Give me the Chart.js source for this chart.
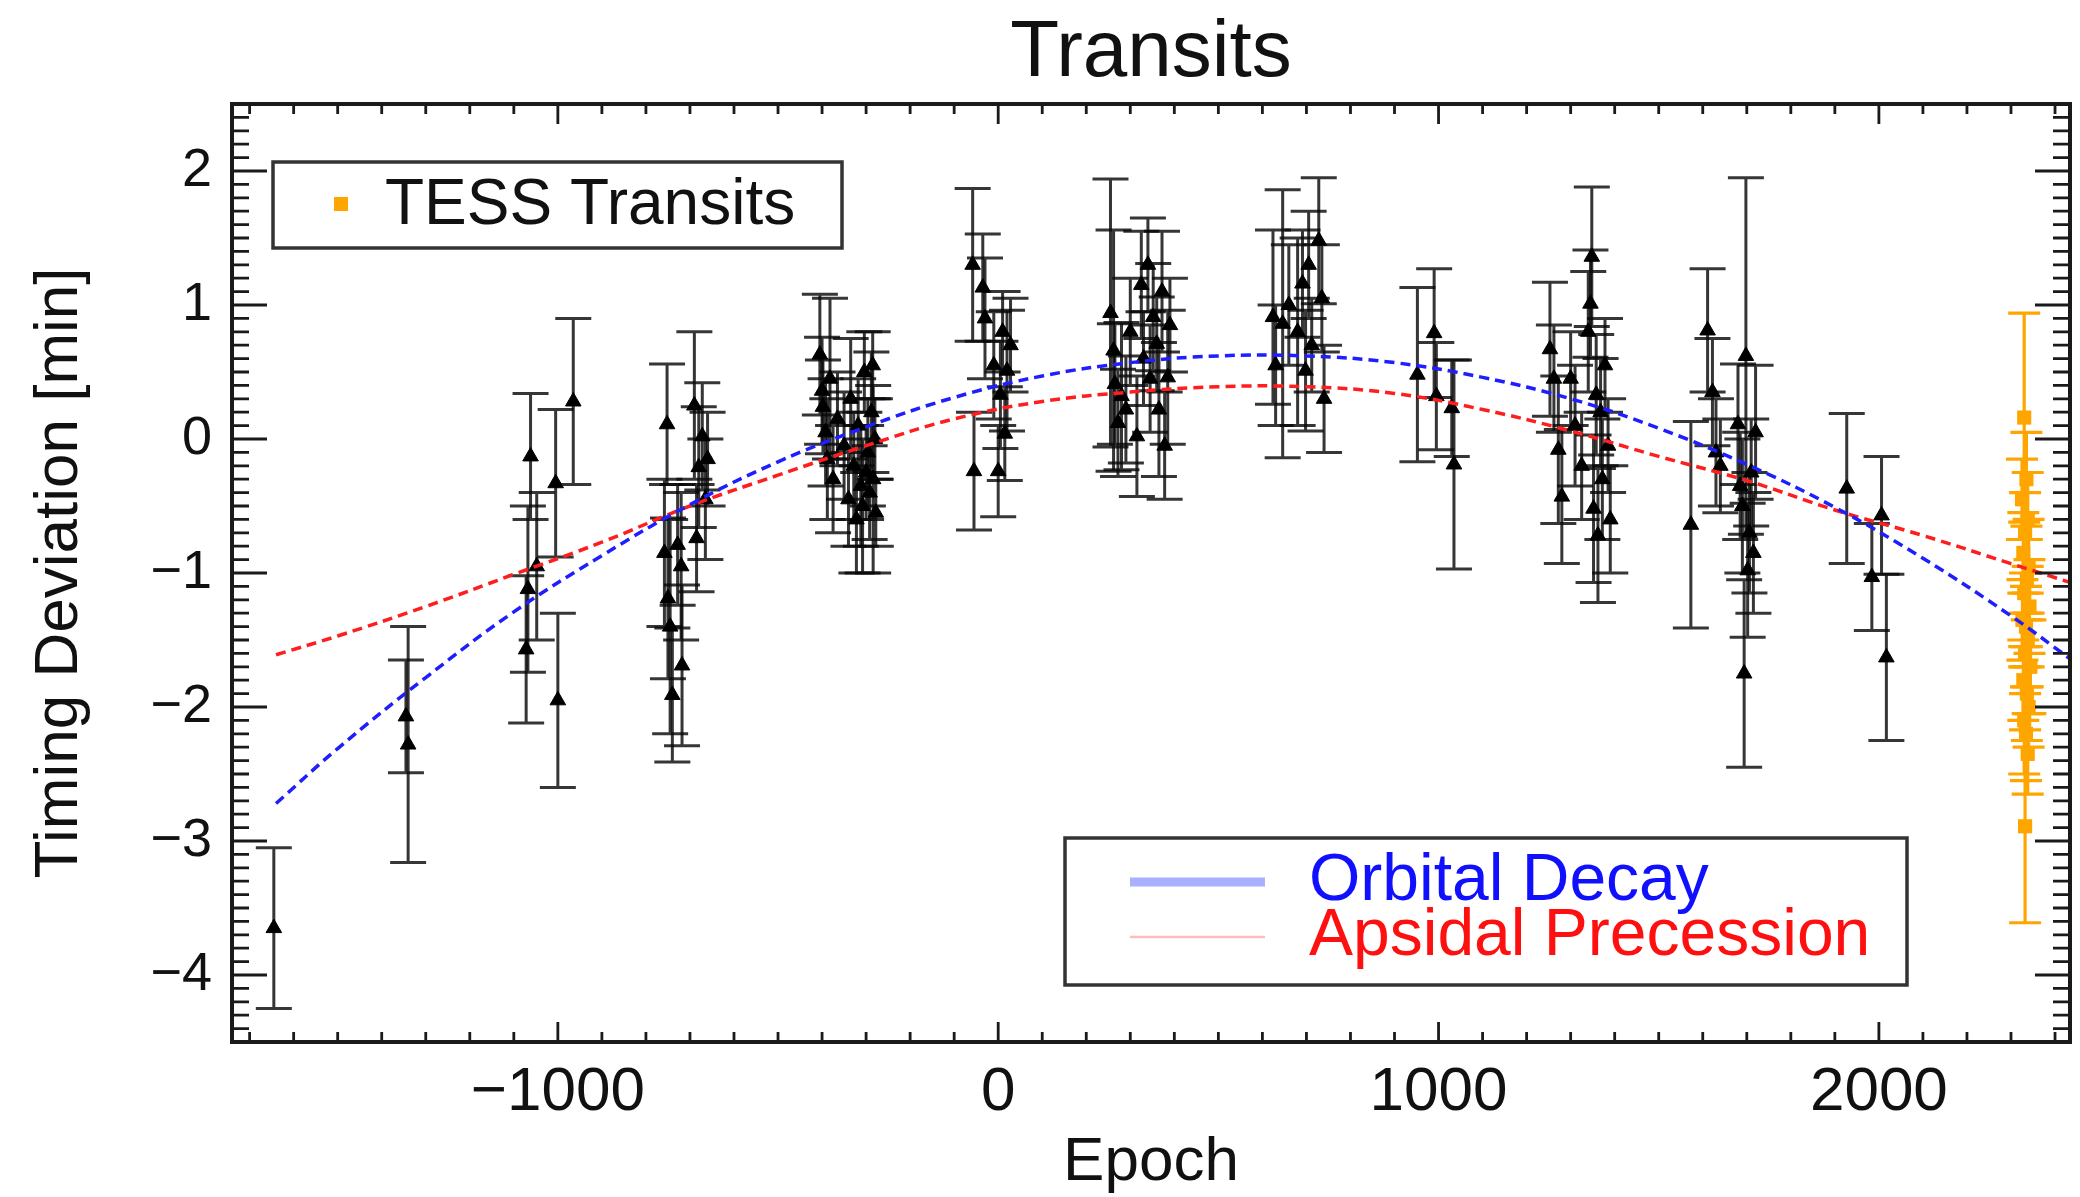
<!DOCTYPE html>
<html>
<head>
<meta charset="utf-8">
<title>Transits</title>
<script src="https://cdn.jsdelivr.net/npm/chart.js@4.4.1/dist/chart.umd.min.js"></script>
<style>
  html, body { margin: 0; padding: 0; background: #fff; }
  #wrap { width: 2080px; height: 1197px; }
</style>
</head>
<body>
<div id="wrap"><canvas id="ttvChart" width="2080" height="1197"></canvas></div>
<script>
// ground-based transits (epoch, timing deviation in min, 1-sigma error)
const epochs = [
    -1645,
    -1345, -1340,
    -1072, -1068, -1062, -1048, -1005, -1000, -965,
    -758, -752, -750, -745, -740, -728, -720, -718, -690, -685, -680, -672, -665, -660,
    -405, -400, -398, -392, -388, -382, -375, -365, -350, -340, -335, -328, -322, -318, -312, -308, -304, -300, -296, -292, -288, -285, -284, -280, -278,
    -58, -55, -35, -30, -10, 0, 5, 10, 15, 20, 28,
    255, 262, 265, 272, 280, 290, 300, 315, 325, 330, 340, 345, 352, 360, 365, 372, 378, 385, 390,
    624, 630, 646, 660, 680, 691, 698, 705, 712, 728, 735, 740,
    952, 990, 995, 1030, 1035,
    1253, 1262, 1272, 1280, 1300, 1310, 1325, 1340, 1345, 1348, 1352, 1358, 1362, 1368, 1372, 1378, 1385, 1390,
    1573, 1611, 1622, 1630, 1640, 1680, 1685, 1690, 1694, 1698, 1702, 1706, 1710, 1715, 1720,
    1927, 1984, 2006, 2017
];
const deviations = [
    -3.65,
    -2.07, -2.28,
    -1.57, -1.12, -0.13, -0.95, -0.33, -1.95, 0.28,
    -0.85, 0.11, -1.19, -1.40, -1.91, -0.79, -0.95, -1.69, 0.25, -0.74, -0.21, 0.02, -0.45, -0.15,
    0.63, 0.36, 0.24, 0.05, -0.15, 0.45, -0.30, 0.15, -0.05, -0.45, 0.30, -0.20, -0.60, 0.10, -0.35, -0.50, 0.50, -0.25, -0.10, -0.40, 0.20, 0.55, -0.30, 0.00, -0.55,
    1.30, -0.24, 1.13, 0.90, 0.55, -0.24, 0.33, 0.80, 0.04, 0.51, 0.70,
    0.94, 0.66, 0.41, 0.12, 0.32, 0.22, 0.80, 0.02, 1.15, 0.60, 1.30, 0.45, 0.91, 0.71, 0.22, 1.10, -0.05, 0.46, 0.85,
    0.91, 0.55, 0.86, 1.00, 0.80, 1.16, 0.51, 1.30, 0.70, 1.48, 1.05, 0.30,
    0.48, 0.79, 0.32, 0.23, -0.19,
    0.67, 0.45, -0.08, -0.43, 0.45, 0.10, -0.20, 0.80, 1.01, 1.36, -0.52, 0.33, -0.72, 0.20, -0.30, 0.55, -0.05, -0.60,
    -0.64, 0.81, 0.35, -0.10, -0.20, 0.11, -0.35, -0.50, -1.75, 0.62, -0.98, -0.70, -0.25, -0.85, 0.05,
    -0.37, -1.03, -0.57, -1.63
];
const errors = [
    0.60,
    0.42, 0.88,
    0.55, 0.62, 0.47, 0.55, 0.55, 0.65, 0.62,
    0.55, 0.45, 0.60, 0.80, 0.50, 0.45, 0.55, 0.60, 0.55, 0.40, 0.45, 0.40, 0.45, 0.35,
    0.45, 0.40, 0.35, 0.40, 0.45, 0.60, 0.40, 0.35, 0.40, 0.35, 0.45, 0.40, 0.40, 0.35, 0.45, 0.50, 0.30, 0.35, 0.40, 0.35, 0.45, 0.25, 0.70, 0.30, 0.25,
    0.57, 0.44, 0.40, 0.45, 0.40, 0.34, 0.40, 0.30, 0.35, 0.45, 0.35,
    1.00, 0.90, 0.45, 0.40, 0.55, 0.40, 0.40, 0.45, 0.40, 0.35, 0.35, 0.40, 0.40, 0.35, 0.50, 0.45, 0.40, 0.50, 0.35,
    0.65, 0.45, 1.00, 0.45, 0.70, 0.40, 0.45, 0.40, 0.35, 0.47, 0.40, 0.40,
    0.65, 0.48, 0.40, 0.36, 0.78,
    0.50, 0.40, 0.55, 0.50, 0.35, 0.45, 0.40, 0.45, 0.40, 0.52, 0.55, 0.45, 0.50, 0.40, 0.45, 0.35, 0.35, 0.40,
    0.77, 0.46, 0.40, 0.40, 0.35, 0.45, 0.40, 0.50, 0.70, 1.33, 0.50, 0.45, 0.40, 0.45, 0.50,
    0.56, 0.40, 0.44, 0.62
];

// TESS transits
const tessEpochs = [2330, 2335, 2325, 2338, 2332, 2328, 2340, 2336, 2330, 2342, 2326, 2334, 2338, 2332, 2344, 2328, 2336, 2340, 2330, 2334, 2338, 2332];
const tessDeviations = [0.16, -0.30, -0.45, -0.60, -0.70, -0.85, -0.95, -1.05, -1.15, -1.25, -1.35, -1.40, -1.50, -1.60, -1.70, -1.80, -1.90, -2.00, -2.10, -2.20, -2.35, -2.89];
const tessErrors = [0.78, 0.35, 0.30, 0.35, 0.30, 0.30, 0.35, 0.30, 0.40, 0.35, 0.30, 0.30, 0.35, 0.30, 0.35, 0.30, 0.35, 0.30, 0.40, 0.35, 0.30, 0.72];

// model curves
const modelEpochs = [-1640, -1500, -1300, -1100, -900, -700, -500, -300, -100, 100, 300, 500, 700, 900, 1100, 1300, 1500, 1700, 1900, 2100, 2300, 2434];
const decayModel = [-2.72, -2.31, -1.78, -1.29, -0.87, -0.49, -0.17, 0.09, 0.31, 0.47, 0.57, 0.62, 0.62, 0.57, 0.46, 0.30, 0.08, -0.19, -0.51, -0.89, -1.32, -1.64];
const precessionModel = [-1.61, -1.47, -1.25, -1.01, -0.77, -0.50, -0.27, -0.05, 0.15, 0.28, 0.35, 0.39, 0.39, 0.34, 0.22, 0.06, -0.13, -0.31, -0.53, -0.72, -0.93, -1.07];

// axes
const xRange = [-1740, 2434];
const yRange = [-4.5, 2.5];
const xMajorTicks = [-1000, 0, 1000, 2000];
const yMajorTicks = [-4, -3, -2, -1, 0, 1, 2];
const xMinorStep = 100;
const yMinorPerMajor = 10;

const FONT = '"Liberation Sans", Arial, Helvetica, sans-serif';
const fmt = v => (v < 0 ? '\u2212' + Math.abs(v) : String(v));

function buildXTicks() {
    const out = [];
    for (let v = Math.ceil(xRange[0] / xMinorStep) * xMinorStep; v <= xRange[1]; v += xMinorStep) out.push({ value: v });
    return out;
}
function buildYTicks() {
    const out = [];
    for (let k = Math.ceil(yRange[0] * yMinorPerMajor); k <= yRange[1] * yMinorPerMajor; k++) out.push({ value: k / yMinorPerMajor });
    return out;
}

const errorBarPlugin = {
    id: 'errorBars',
    beforeDatasetsDraw(chart) {
        const { ctx, chartArea: a, scales: { x, y } } = chart;
        ctx.save();
        ctx.beginPath();
        ctx.rect(a.left, a.top, a.right - a.left, a.bottom - a.top);
        ctx.clip();
        chart.data.datasets.forEach(ds => {
            if (!ds.errors) return;
            ctx.strokeStyle = ds.errorColor;
            ctx.lineWidth = ds.errorWidth;
            const cap = ds.capHalf;
            ds.data.forEach((pt, i) => {
                const px = x.getPixelForValue(pt.x);
                const top = y.getPixelForValue(pt.y + ds.errors[i]);
                const bot = y.getPixelForValue(pt.y - ds.errors[i]);
                ctx.beginPath();
                ctx.moveTo(px, top); ctx.lineTo(px, bot);
                ctx.moveTo(px - cap, top); ctx.lineTo(px + cap, top);
                ctx.moveTo(px - cap, bot); ctx.lineTo(px + cap, bot);
                ctx.stroke();
            });
        });
        ctx.restore();
    }
};

// IDL-style box with inward major/minor ticks on all four sides
const framePlugin = {
    id: 'frame',
    afterDatasetsDraw(chart) {
        const { ctx, chartArea: a, scales: { x, y } } = chart;
        ctx.save();
        ctx.strokeStyle = '#1a1a1a';
        ctx.lineWidth = 2.8;
        ctx.beginPath();
        x.ticks.forEach((t, i) => {
            const px = x.getPixelForTick(i);
            const len = xMajorTicks.includes(t.value) ? 20 : 10;
            ctx.moveTo(px, a.bottom); ctx.lineTo(px, a.bottom - len);
            ctx.moveTo(px, a.top); ctx.lineTo(px, a.top + len);
        });
        y.ticks.forEach((t, i) => {
            const py = y.getPixelForTick(i);
            const len = yMajorTicks.includes(t.value) ? 35 : 17;
            ctx.moveTo(a.left, py); ctx.lineTo(a.left + len, py);
            ctx.moveTo(a.right, py); ctx.lineTo(a.right - len, py);
        });
        ctx.stroke();
        ctx.lineWidth = 4;
        ctx.strokeRect(a.left, a.top, a.right - a.left, a.bottom - a.top);
        ctx.restore();
    }
};

const legendBoxesPlugin = {
    id: 'legendBoxes',
    afterDraw(chart) {
        const ctx = chart.ctx;
        ctx.save();
        ctx.textBaseline = 'middle';
        ctx.textAlign = 'left';

        // TESS box
        ctx.fillStyle = '#fff';
        ctx.fillRect(273, 162, 569, 86);
        ctx.strokeStyle = '#333';
        ctx.lineWidth = 3.5;
        ctx.strokeRect(273, 162, 569, 86);
        ctx.fillStyle = '#ffa500';
        ctx.fillRect(334, 197, 14, 14);
        ctx.fillStyle = '#111';
        ctx.font = '64px ' + FONT;
        ctx.fillText('TESS Transits', 385, 206);

        // model box
        ctx.fillStyle = '#fff';
        ctx.fillRect(1065, 838, 842, 147);
        ctx.strokeStyle = '#333';
        ctx.strokeRect(1065, 838, 842, 147);
        ctx.lineWidth = 9;
        ctx.strokeStyle = '#a8b0ff';
        ctx.beginPath(); ctx.moveTo(1130, 882); ctx.lineTo(1265, 882); ctx.stroke();
        ctx.lineWidth = 2.5;
        ctx.strokeStyle = '#ffbcbc';
        ctx.beginPath(); ctx.moveTo(1130, 937); ctx.lineTo(1265, 937); ctx.stroke();
        ctx.font = '66px ' + FONT;
        ctx.fillStyle = '#1010ff';
        ctx.fillText('Orbital Decay', 1309, 882);
        ctx.fillStyle = '#ff1010';
        ctx.fillText('Apsidal Precession', 1309, 937);
        ctx.restore();
    }
};

const toXY = (xs, ys) => xs.map((v, i) => ({ x: v, y: ys[i] }));

new Chart(document.getElementById('ttvChart'), {
    type: 'scatter',
    data: {
        datasets: [
            {
                label: 'Orbital Decay',
                data: toXY(modelEpochs, decayModel),
                showLine: true,
                borderColor: '#1e1eff',
                borderWidth: 3.5,
                borderDash: [10, 6],
                tension: 0.4,
                pointRadius: 0,
                order: 0
            },
            {
                label: 'Apsidal Precession',
                data: toXY(modelEpochs, precessionModel),
                showLine: true,
                borderColor: '#ff1e1e',
                borderWidth: 3.5,
                borderDash: [10, 6],
                tension: 0.4,
                pointRadius: 0,
                order: 1
            },
            {
                label: 'TESS Transits',
                data: toXY(tessEpochs, tessDeviations),
                errors: tessErrors,
                errorColor: '#ffa500',
                errorWidth: 3.2,
                capHalf: 16,
                pointStyle: 'rect',
                pointRadius: 10,
                backgroundColor: '#ffa500',
                borderColor: '#ffa500',
                borderWidth: 0,
                order: 2
            },
            {
                label: 'Transits',
                data: toXY(epochs, deviations),
                errors: errors,
                errorColor: 'rgba(10,10,10,0.82)',
                errorWidth: 3,
                capHalf: 18,
                pointStyle: 'triangle',
                pointRadius: 9,
                backgroundColor: '#000',
                borderColor: '#000',
                borderWidth: 1,
                order: 3
            }
        ]
    },
    options: {
        responsive: false,
        devicePixelRatio: 1,
        animation: false,
        layout: { padding: { left: 0, right: 3, top: 0, bottom: 0 } },
        plugins: {
            legend: { display: false },
            tooltip: { enabled: false },
            title: {
                display: true,
                text: 'Transits',
                fullSize: false,
                color: '#111',
                font: { family: FONT, size: 80, weight: 'normal', lineHeight: 1.2 },
                padding: { top: 6, bottom: 2 }
            }
        },
        scales: {
            x: {
                type: 'linear',
                min: xRange[0],
                max: xRange[1],
                afterBuildTicks: scale => { scale.ticks = buildXTicks(); },
                afterFit: scale => { scale.height = 155; },
                grid: { display: false, drawTicks: false },
                border: { display: false },
                ticks: {
                    autoSkip: false,
                    maxRotation: 0,
                    padding: 14,
                    color: '#111',
                    font: { family: FONT, size: 62 },
                    callback: v => (xMajorTicks.includes(v) ? fmt(v) : '')
                },
                title: {
                    display: true,
                    text: 'Epoch',
                    color: '#111',
                    font: { family: FONT, size: 62, lineHeight: 1 },
                    padding: { top: 0, bottom: 3 }
                }
            },
            y: {
                type: 'linear',
                min: yRange[0],
                max: yRange[1],
                afterBuildTicks: scale => { scale.ticks = buildYTicks(); },
                afterFit: scale => { scale.width = 232; },
                grid: { display: false, drawTicks: false },
                border: { display: false },
                ticks: {
                    autoSkip: false,
                    padding: 20,
                    color: '#111',
                    font: { family: FONT, size: 54 },
                    callback: v => (yMajorTicks.includes(v) ? fmt(v) : '')
                },
                title: {
                    display: true,
                    text: 'Timing Deviation [min]',
                    color: '#111',
                    font: { family: FONT, size: 62, lineHeight: 1 },
                    padding: { top: 29, bottom: 0 }
                }
            }
        }
    },
    plugins: [errorBarPlugin, framePlugin, legendBoxesPlugin]
});
</script>
</body>
</html>
